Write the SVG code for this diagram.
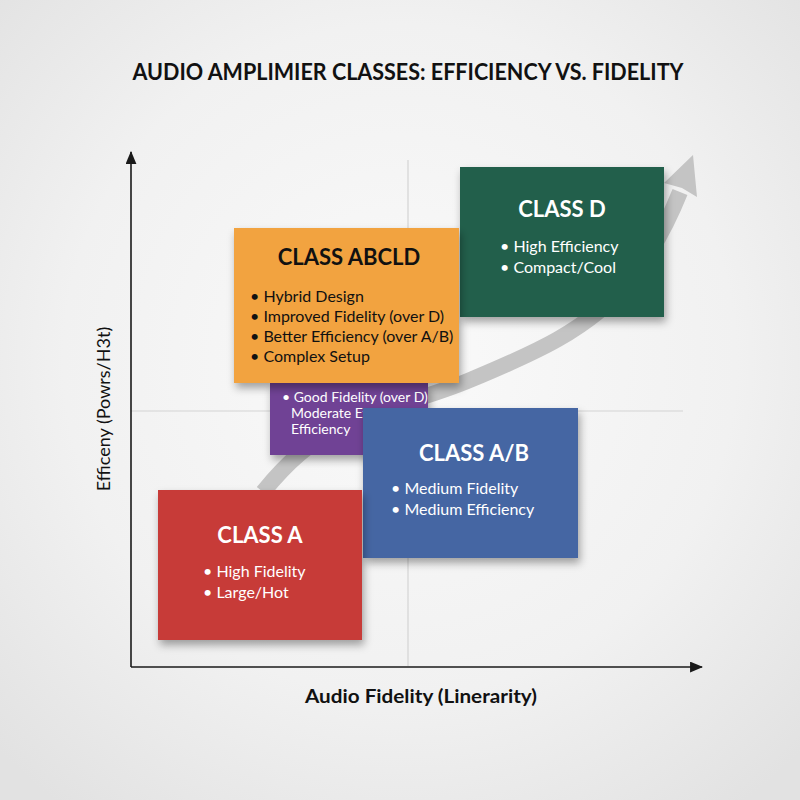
<svg xmlns="http://www.w3.org/2000/svg" width="800" height="800" viewBox="0 0 800 800">
<defs>
<radialGradient id="bg" cx="50%" cy="45%" r="70%">
<stop offset="0" stop-color="#fafafa"/>
<stop offset="0.6" stop-color="#f1f1f1"/>
<stop offset="1" stop-color="#e2e2e2"/>
</radialGradient>
<filter id="sh" x="-20%" y="-20%" width="140%" height="150%">
<feDropShadow dx="2" dy="5" stdDeviation="4" flood-color="#000" flood-opacity="0.35"/>
</filter>
<marker id="ah" viewBox="0 0 12 10" refX="11" refY="5" markerWidth="13" markerHeight="11" markerUnits="userSpaceOnUse" orient="auto">
<path d="M0,0 L12,5 L0,10 Z" fill="#1a1a1a"/>
</marker>
<style>
text{font-family:"Lato","Open Sans","Liberation Sans",sans-serif}
.ttl{font-weight:bold;font-size:22px;text-anchor:middle}
.w{fill:#ffffff}
.k{fill:#111111}
.b{font-size:16px}
.s{font-size:14px}
.grid{stroke:#d4d4d4;stroke-width:1.2}
.axis{stroke:#1a1a1a;stroke-width:1.6;fill:none}
</style>
</defs>
<rect width="800" height="800" fill="url(#bg)"/>
<text x="408" y="80" font-weight="bold" font-size="23" text-anchor="middle" fill="#111" textLength="551" lengthAdjust="spacingAndGlyphs">AUDIO AMPLIMIER CLASSES: EFFICIENCY VS. FIDELITY</text>

<g id="grid">
<line class="grid" x1="408" y1="160" x2="408" y2="666"/>
<line class="grid" x1="131" y1="411" x2="683" y2="411"/>
</g>

<g id="connectors">
<line class="axis" x1="131" y1="667" x2="131" y2="152" marker-end="url(#ah)"/>
<line class="axis" x1="131" y1="667" x2="702" y2="667" marker-end="url(#ah)"/>
<path d="M263,492 C285,465 310,440 350,422 C390,405 430,397 470,380 C530,355 590,330 630,280 C650,255 668,222 680,192" fill="none" stroke="#c4c4c4" stroke-width="16"/>
<path d="M693,155 L697,197 L682,188 L664,183 Z" fill="#c4c4c4"/>
</g>

<text x="110" y="409" font-size="18" text-anchor="middle" fill="#111" transform="rotate(-90 110 409)">Efficeny (Powrs/H3t)</text>
<text x="421" y="703" font-size="19" font-weight="bold" text-anchor="middle" fill="#111" textLength="232" lengthAdjust="spacingAndGlyphs">Audio Fidelity (Linerarity)</text>

<g id="class-d">
<rect x="460" y="167" width="204" height="150" fill="#245e4b" filter="url(#sh)"/>
<text class="ttl w" x="562" y="217">CLASS D</text>
<text class="b w" x="500" y="252">• High Efficiency</text>
<text class="b w" x="500" y="273">• Compact/Cool</text>
</g>

<g id="class-good">
<rect x="270" y="383" width="158" height="72" fill="#6f4395" filter="url(#sh)"/>
<text class="s w" x="282" y="402">• Good Fidelity (over D)</text>
<text class="s w" x="291" y="418">Moderate Ef</text>
<text class="s w" x="291" y="434">Efficiency</text>
</g>

<g id="class-abcld">
<rect x="234" y="228" width="225" height="155" fill="#f2a33f" filter="url(#sh)"/>
<text class="ttl k" x="349" y="265" font-size="23">CLASS ABCLD</text>
<text class="b k" x="250" y="302">• Hybrid Design</text>
<text class="b k" x="250" y="322">• Improved Fidelity (over D)</text>
<text class="b k" x="250" y="342">• Better Efficiency (over A/B)</text>
<text class="b k" x="250" y="362">• Complex Setup</text>
</g>

<g id="class-ab">
<rect x="363" y="408" width="215" height="150" fill="#4466a3" filter="url(#sh)"/>
<text class="ttl w" x="474" y="461">CLASS A/B</text>
<text class="b w" x="391" y="494">• Medium Fidelity</text>
<text class="b w" x="391" y="515">• Medium Efficiency</text>
</g>

<g id="class-a">
<rect x="158" y="490" width="204" height="150" fill="#c73a38" filter="url(#sh)"/>
<text class="ttl w" x="260" y="543">CLASS A</text>
<text class="b w" x="203" y="577">• High Fidelity</text>
<text class="b w" x="203" y="598">• Large/Hot</text>
</g>
</svg>
